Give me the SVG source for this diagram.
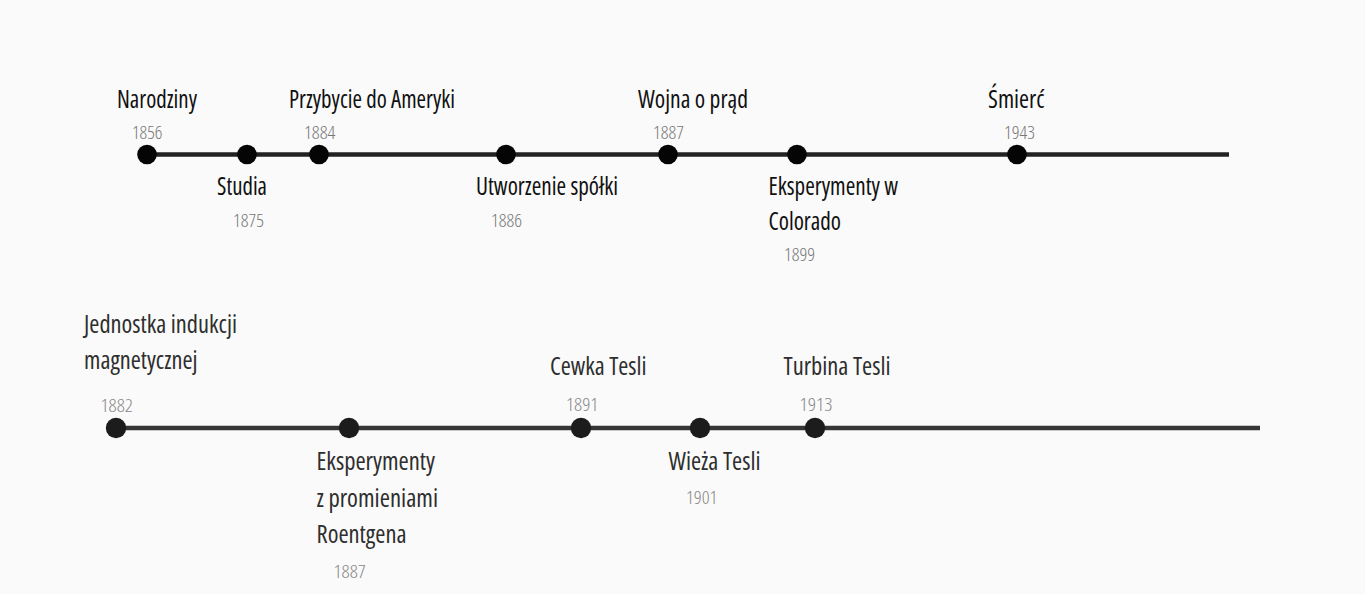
<svg xmlns="http://www.w3.org/2000/svg" width="1365" height="594" viewBox="0 0 1365 594">
<style>
.lbl{font-family:"Open Sans","Liberation Sans",sans-serif;font-stretch:condensed;font-size:25px;font-weight:500;fill:#111}
.lbl2{fill:#2e2e2e}
.yr{font-family:"Open Sans","Liberation Sans",sans-serif;font-stretch:condensed;font-size:17.5px;font-weight:300;fill:#777}
.yr2{fill:#888}
.dot{fill:#050505}
.dot2{fill:#1c1c1c}
.ln{stroke:#222;stroke-width:4.5;fill:none}
.ln2{stroke:#363636;stroke-width:4.5;fill:none}
</style>
<rect width="1365" height="594" fill="#fafafa"/>
<g id="connectors">
<line class="ln" x1="147" y1="154.5" x2="1229" y2="154.5"/>
<line class="ln2" x1="116" y1="428" x2="1260" y2="428"/>
</g>
<g id="n-narodziny">
<circle class="dot" cx="147" cy="154.5" r="9.8"/>
<text class="lbl" x="117" y="108" textLength="80" lengthAdjust="spacingAndGlyphs">Narodziny</text>
<text class="yr" x="132" y="138.5" textLength="30.5" lengthAdjust="spacingAndGlyphs">1856</text>
</g>
<g id="n-studia">
<circle class="dot" cx="247" cy="154.5" r="9.8"/>
<text class="lbl" x="217" y="195" textLength="50" lengthAdjust="spacingAndGlyphs">Studia</text>
<text class="yr" x="233" y="227" textLength="31" lengthAdjust="spacingAndGlyphs">1875</text>
</g>
<g id="n-przybycie">
<circle class="dot" cx="319" cy="154.5" r="9.8"/>
<text class="lbl" x="289" y="108" textLength="166" lengthAdjust="spacingAndGlyphs">Przybycie do Ameryki</text>
<text class="yr" x="304" y="138.5" textLength="31.5" lengthAdjust="spacingAndGlyphs">1884</text>
</g>
<g id="n-spolka">
<circle class="dot" cx="506" cy="154.5" r="9.8"/>
<text class="lbl" x="476" y="195" textLength="142" lengthAdjust="spacingAndGlyphs">Utworzenie spółki</text>
<text class="yr" x="491" y="227" textLength="31" lengthAdjust="spacingAndGlyphs">1886</text>
</g>
<g id="n-wojna">
<circle class="dot" cx="668" cy="154.5" r="9.8"/>
<text class="lbl" x="638" y="108" textLength="110" lengthAdjust="spacingAndGlyphs">Wojna o prąd</text>
<text class="yr" x="653" y="138.5" textLength="31" lengthAdjust="spacingAndGlyphs">1887</text>
</g>
<g id="n-colorado">
<circle class="dot" cx="797" cy="154.5" r="9.8"/>
<text class="lbl" x="768.5" y="195" textLength="129.5" lengthAdjust="spacingAndGlyphs">Eksperymenty w</text>
<text class="lbl" x="768.5" y="230" textLength="72.5" lengthAdjust="spacingAndGlyphs">Colorado</text>
<text class="yr" x="784" y="261" textLength="31" lengthAdjust="spacingAndGlyphs">1899</text>
</g>
<g id="n-smierc">
<circle class="dot" cx="1017" cy="154.5" r="9.8"/>
<text class="lbl" x="988" y="108" textLength="56.5" lengthAdjust="spacingAndGlyphs">Śmierć</text>
<text class="yr" x="1004" y="138.5" textLength="31" lengthAdjust="spacingAndGlyphs">1943</text>
</g>
<g id="n-jednostka">
<circle class="dot2" cx="116" cy="428" r="10.2"/>
<text class="lbl lbl2" x="84" y="333" textLength="153" lengthAdjust="spacingAndGlyphs">Jednostka indukcji</text>
<text class="lbl lbl2" x="84" y="369" textLength="113.5" lengthAdjust="spacingAndGlyphs">magnetycznej</text>
<text class="yr yr2" x="100.5" y="411.5" textLength="32.5" lengthAdjust="spacingAndGlyphs">1882</text>
</g>
<g id="n-roentgen">
<circle class="dot2" cx="349" cy="428" r="10.2"/>
<text class="lbl lbl2" x="316.5" y="470" textLength="118.5" lengthAdjust="spacingAndGlyphs">Eksperymenty</text>
<text class="lbl lbl2" x="316.5" y="506.5" textLength="121.5" lengthAdjust="spacingAndGlyphs">z promieniami</text>
<text class="lbl lbl2" x="316.5" y="543" textLength="90" lengthAdjust="spacingAndGlyphs">Roentgena</text>
<text class="yr yr2" x="333.5" y="578" textLength="32.5" lengthAdjust="spacingAndGlyphs">1887</text>
</g>
<g id="n-cewka">
<circle class="dot2" cx="581" cy="428" r="10.2"/>
<text class="lbl lbl2" x="550" y="375" textLength="96.5" lengthAdjust="spacingAndGlyphs">Cewka Tesli</text>
<text class="yr yr2" x="566" y="411" textLength="32.5" lengthAdjust="spacingAndGlyphs">1891</text>
</g>
<g id="n-wieza">
<circle class="dot2" cx="700" cy="428" r="10.2"/>
<text class="lbl lbl2" x="668.5" y="470" textLength="92" lengthAdjust="spacingAndGlyphs">Wieża Tesli</text>
<text class="yr yr2" x="686" y="504" textLength="31.5" lengthAdjust="spacingAndGlyphs">1901</text>
</g>
<g id="n-turbina">
<circle class="dot2" cx="815" cy="428" r="10.2"/>
<text class="lbl lbl2" x="783.5" y="375" textLength="107" lengthAdjust="spacingAndGlyphs">Turbina Tesli</text>
<text class="yr yr2" x="799.5" y="411" textLength="33" lengthAdjust="spacingAndGlyphs">1913</text>
</g>
</svg>
